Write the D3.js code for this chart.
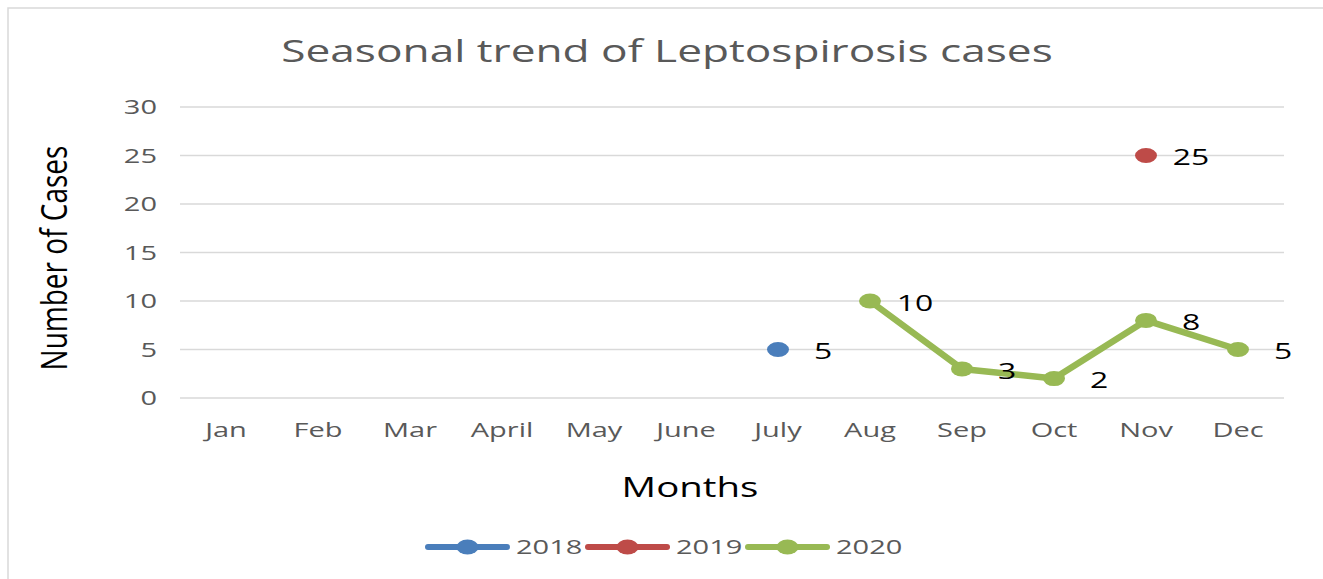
<!DOCTYPE html>
<html>
<head>
<meta charset="utf-8">
<script src="https://cdn.jsdelivr.net/npm/d3@7"></script>
<style>
  body { margin: 0; background: #fff; }
  text { font-family: "Open Sans", "Noto Sans", sans-serif; }
</style>
</head>
<body>
<svg width="1323" height="579"></svg>
<script>
const months = ['Jan', 'Feb', 'Mar', 'April', 'May', 'June', 'July', 'Aug', 'Sep', 'Oct', 'Nov', 'Dec']
const years = ['2018', '2019', '2020']
const cases_2018 = [null, null, null, null, null, null, 5, null, null, null, null, null]
const cases_2019 = [null, null, null, null, null, null, null, null, null, null, 25, null]
const cases_2020 = [null, null, null, null, null, null, null, 10, 3, 2, 8, 5]
const y_ticks = [0, 5, 10, 15, 20, 25, 30]

const colors = ['#4a7ebb', '#be4b48', '#98b954'],
    grid_color = '#d9d9d9',
    text_color = '#595959',
    sx = 1.45 // the original picture is stretched sideways

const svg = d3.select('svg'),
    width = +svg.attr('width'),
    height = +svg.attr('height')

// place text at (px, py), stretched horizontally
function at(px, py) {
    return 'translate(' + px + ',' + py + ')scale(' + sx + ',1)'
}

// outer frame
svg.append('rect')
    .attr('x', 8).attr('y', 8)
    .attr('width', width).attr('height', height)
    .style('fill', 'none')
    .style('stroke', grid_color)
    .style('stroke-width', 1.5)

const x = d3.scaleBand()
    .domain(months)
    .range([180, 1284]),
    y = d3.scaleLinear()
    .domain([0, 30])
    .range([398, 107]),
    cx = (m) => x(m) + x.bandwidth() / 2

// title
svg.append('text')
    .attr('transform', at(667, 62))
    .style('text-anchor', 'middle')
    .style('font-size', '30.5px')
    .style('fill', text_color)
    .text('Seasonal trend of Leptospirosis cases')

// gridlines
svg.selectAll('.grid')
    .data(y_ticks)
    .enter().append('line')
    .attr('x1', 180).attr('x2', 1284)
    .attr('y1', (d) => y(d)).attr('y2', (d) => y(d))
    .style('stroke', grid_color)
    .style('stroke-width', 1.5)

// y tick labels
svg.selectAll('.ytick')
    .data(y_ticks)
    .enter().append('text')
    .attr('transform', (d) => at(157, y(d)))
    .attr('dy', '0.35em')
    .style('text-anchor', 'end')
    .style('font-size', '20px')
    .style('fill', text_color)
    .text((d) => d)

// x tick labels
svg.selectAll('.xtick')
    .data(months)
    .enter().append('text')
    .attr('transform', (d) => at(cx(d), 437))
    .style('text-anchor', 'middle')
    .style('font-size', '20px')
    .style('fill', text_color)
    .text((d) => d)

// axis titles
svg.append('text')
    .attr('transform', at(690, 497))
    .style('text-anchor', 'middle')
    .style('font-size', '26.5px')
    .style('fill', '#000')
    .text('Months')

svg.append('text')
    .attr('transform', 'translate(67,258)rotate(-90)scale(1.12,' + sx + ')')
    .style('text-anchor', 'middle')
    .style('font-size', '25px')
    .style('fill', '#000')
    .text('Number of Cases')

// series
const series = [cases_2018, cases_2019, cases_2020].map(function (vals, i) {
    return {
        year: years[i],
        color: colors[i],
        points: vals.map((v, j) => ({ month: months[j], value: v })).filter((d) => d.value !== null)
    }
})

const line = d3.line()
    .x((d) => cx(d.month))
    .y((d) => y(d.value))

const g = svg.selectAll('.series')
    .data(series)
    .enter().append('g')

g.append('path')
    .attr('d', (d) => line(d.points))
    .style('fill', 'none')
    .style('stroke', (d) => d.color)
    .style('stroke-width', 6.5)
    .style('stroke-linejoin', 'round')

g.selectAll('ellipse')
    .data((d) => d.points.map((p) => Object.assign({ color: d.color }, p)))
    .enter().append('ellipse')
    .attr('cx', (d) => cx(d.month))
    .attr('cy', (d) => y(d.value))
    .attr('rx', 11)
    .attr('ry', 7.5)
    .style('fill', (d) => d.color)

g.selectAll('.label')
    .data((d) => d.points)
    .enter().append('text')
    .attr('transform', (d) => at(cx(d.month) + 45, y(d.value) + 2))
    .attr('dy', '0.35em')
    .style('text-anchor', 'middle')
    .style('font-size', '22px')
    .style('fill', '#000')
    .text((d) => d.value)

// legend
const legend = svg.selectAll('.legend')
    .data(series)
    .enter().append('g')
    .attr('transform', (d, i) => 'translate(' + (428 + i * 160) + ',547)')

legend.append('line')
    .attr('x1', 0).attr('x2', 79)
    .style('stroke', (d) => d.color)
    .style('stroke-width', 6)
    .style('stroke-linecap', 'round')

legend.append('ellipse')
    .attr('cx', 39.5)
    .attr('rx', 11)
    .attr('ry', 7.5)
    .style('fill', (d) => d.color)

legend.append('text')
    .attr('transform', at(88, 0))
    .attr('dy', '0.35em')
    .style('font-size', '20px')
    .style('fill', text_color)
    .text((d) => d.year)
</script>
</body>
</html>
